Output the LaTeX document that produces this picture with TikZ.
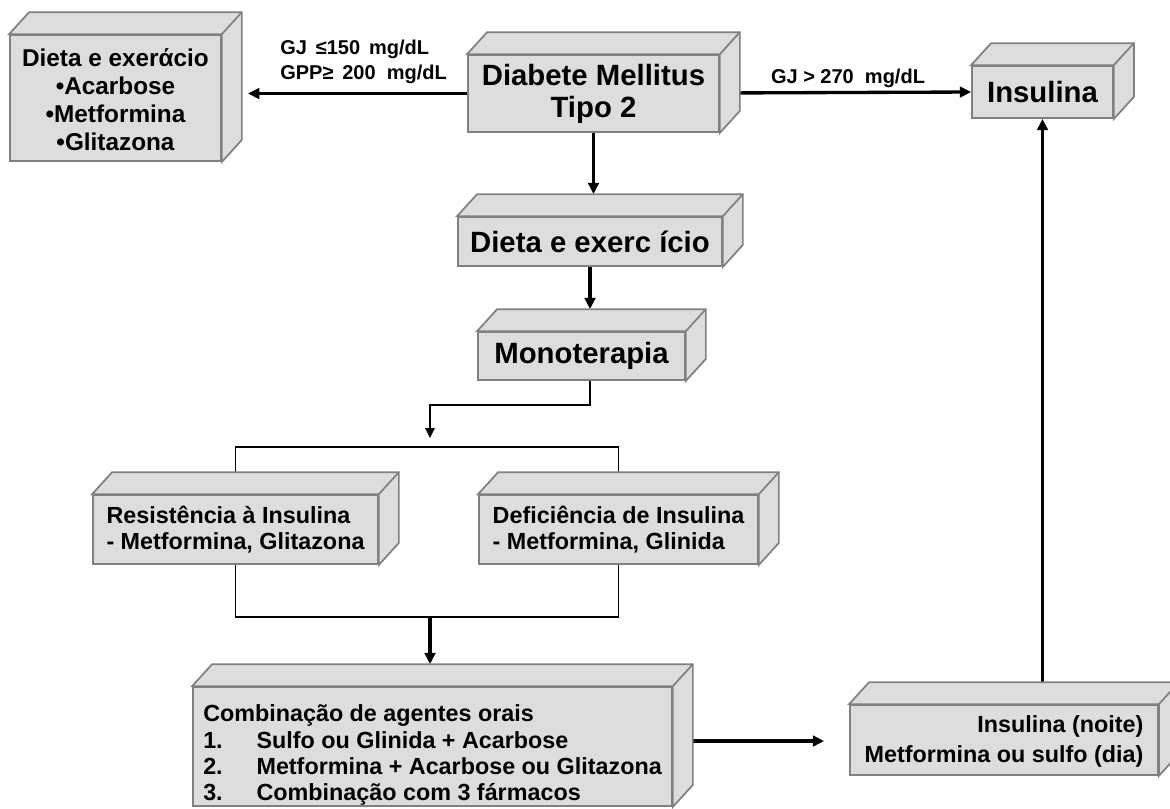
\documentclass[tikz,border=0pt]{standalone}
\usepackage{fontspec}
\setmainfont{Liberation Sans}
\usetikzlibrary{calc,arrows.meta}
\pgfdeclarelayer{bg}
\pgfsetlayers{bg,main}
\definecolor{boxfill}{HTML}{DDDDDD}
\definecolor{boxline}{HTML}{808080}
\newcommand\bigf{\fontsize{22pt}{24pt}\selectfont\bfseries}
\newcommand\depthfaces[1]{%
  \draw[face] (#1.north west) -- ++(20,-22) -- ($(#1.north east)+(20,-22)$) -- ($(#1.south east)+(20,-22)$) -- (#1.south east) -- (#1.north east) -- cycle;
  \draw[face] (#1.north east) -- ++(20,-22);}
\tikzset{
  face/.style={draw=boxline, fill=boxfill, line width=1.3pt, line join=miter},
  box/.style={face, rectangle, inner sep=0pt, text=black},
  wh/.style 2 args={minimum width=#1*0.75pt, minimum height=#2*0.75pt},
  arr/.style={line width=2.5pt, -{Triangle[length=8.5pt,width=8pt]}},
  thinarr/.style={line width=1.2pt, -{Triangle[length=7.5pt,width=7pt]}},
  thinline/.style={line width=1.2pt},
  lab/.style={font=\fontsize{15pt}{18.75pt}\selectfont\bfseries, inner sep=0pt}
}
\begin{document}
\begin{tikzpicture}[x=0.75pt,y=-0.75pt]
\useasboundingbox (0,0) rectangle (1170,808);

% boxes (front faces)
\node[box, wh={211}{126}, align=center, font=\fontsize{18.25pt}{21pt}\selectfont\bfseries] (b1) at (115.5,98) {\rule{0pt}{16pt}Dieta e exerάcio\\•Acarbose\\•Metformina\\•Glitazona};
\depthfaces{b1}
\node[box, wh={251}{77}, align=center, font=\bigf] (b2) at (593.5,93.5) {Diabete Mellitus\\Tipo 2};
\depthfaces{b2}
\node[box, wh={141}{52}, align=center, font=\bigf] (b3) at (1042.5,92) {Insulina};
\depthfaces{b3}
\node[box, wh={264}{49}, align=center, font=\bigf] (b4) at (590,241.5) {Dieta e exerc ício};
\depthfaces{b4}
\node[box, wh={207}{48}, align=center, font=\bigf] (b5) at (581.5,356) {Monoterapia};
\depthfaces{b5}
\node[box, wh={285}{69}, align=left, font=\fontsize{17.5pt}{20pt}\selectfont\bfseries] (b6) at (235.5,529.5) {Resistência à Insulina\\- Metformina, Glitazona};
\depthfaces{b6}
\node[box, wh={279}{69}, align=left, font=\fontsize{17.5pt}{20pt}\selectfont\bfseries] (b7) at (618.5,529.5) {Deficiência de Insulina\\- Metformina, Glinida};
\depthfaces{b7}
\node[box, wh={479}{119}, align=left, font=\fontsize{17.5pt}{19.75pt}\selectfont\bfseries] (b8) at (432.5,746.5) {\rule{0pt}{26pt}Combinação de agentes orais\\\makebox[40pt][l]{1.}Sulfo ou Glinida + Acarbose\\\makebox[40pt][l]{2.}Metformina + Acarbose ou Glitazona\\\makebox[40pt][l]{3.}Combinação com 3 fármacos};
\depthfaces{b8}
\node[box, wh={308}{70}, align=right, font=\fontsize{17.5pt}{22pt}\selectfont\bfseries] (b9) at (1004,740) {\rule{0pt}{15pt}Insulina (noite)\\Metformina ou sulfo (dia)};
\depthfaces{b9}

% labels
\node[lab, anchor=west, align=left] (lab1) at (280,61.5) {GJ \,≤150 \,mg/dL\\GPP≥ \,200 \ mg/dL};
\node[lab, anchor=center] (lab2) at (848,78) {GJ > 270 \ mg/dL};

% helper coordinates
\coordinate (t1) at (248,94);
\coordinate (b4t) at ($(b4.north)+(0,-22)$);
\coordinate (b5t) at ($(b5.north)+(0,-22)$);
\coordinate (b8t) at ($(b8.north)+(0,-22)$);
\coordinate (mk) at (430,405);
\coordinate (sp) at (430,438);
\coordinate (brT) at (430,447);
\coordinate (brB) at (430,617);
\coordinate (t9) at ($(b9.west)+(-25,1)$);

\begin{pgfonlayer}{bg}
\draw[arr] (b2.center) -- (b2.center -| t1);
\draw[arr] (b2.center) -- (b3.west);
\draw[arr] (b2.center) -- (b2.center |- b4t);
\draw[arr] (b4.center) -- (b4.center |- b5t);
\draw[thinarr] (b5.center -| b4.center) |- (mk) -- (sp);
\draw[thinline] (b6.center) |- (brT) -| (b7.center);
\draw[thinline] (b6.center) |- (brB) -| (b7.center);
\draw[arr] (brB) -- (brB |- b8t);
\draw[arr] (b8.center |- t9) -- (t9);
\draw[arr] (b3.south |- b9.center) -- (b3.south);
\end{pgfonlayer}
\end{tikzpicture}
\end{document}
